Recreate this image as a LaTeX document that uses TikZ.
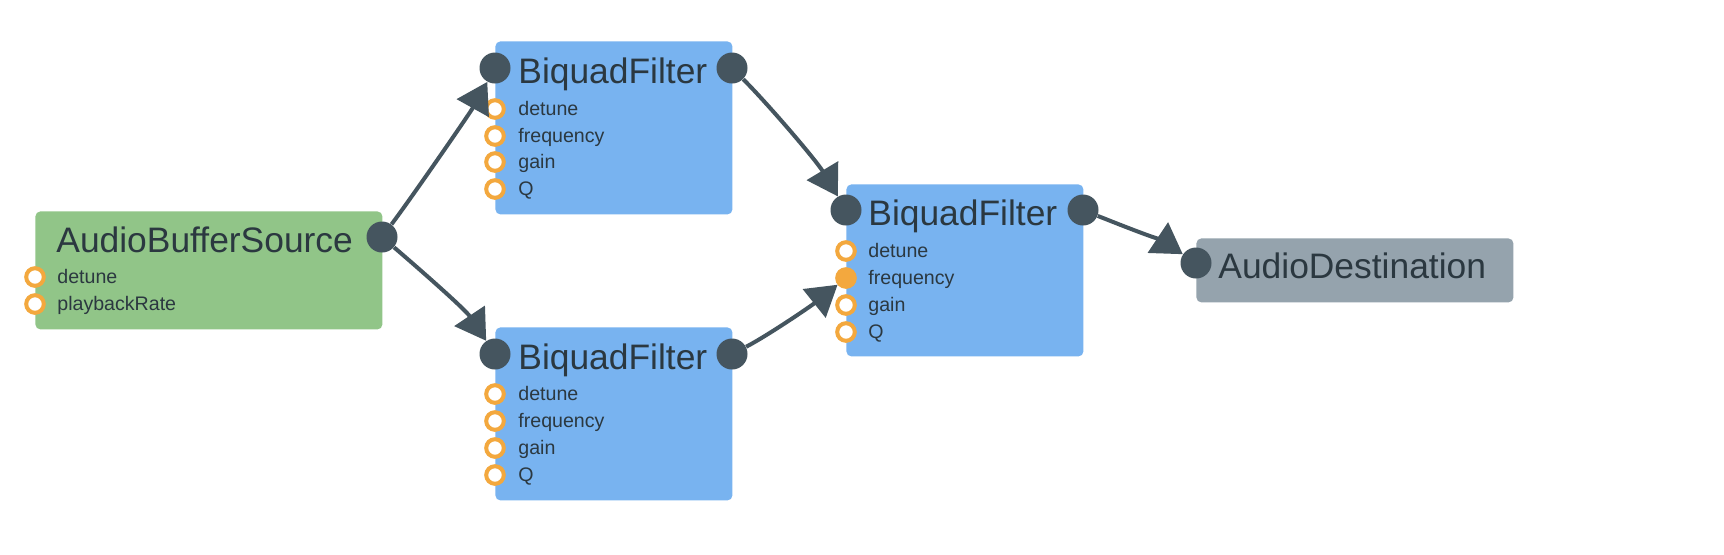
\documentclass[tikz,border=0pt]{standalone}
\usepackage{fontspec}
\setmainfont{Liberation Sans}
\usetikzlibrary{
  arrows.meta,
  positioning,
}
\definecolor{srcgreen}{RGB}{145, 197, 136}
\definecolor{filterblue}{RGB}{120, 179, 240}
\definecolor{destgrey}{RGB}{149, 163, 173}
\definecolor{portdark}{RGB}{69, 85, 95}
\definecolor{paramorange}{RGB}{243, 168, 62}
\definecolor{labeltext}{RGB}{43, 56, 64}
\tikzstyle{box} = [
  inner sep=0,
  rounded corners=2.5pt,
  anchor=north west,
]
\tikzstyle{port} = [
  circle,
  inner sep=0,
  minimum size=15.5pt,
  fill=portdark,
]
\tikzstyle{param} = [
  circle,
  inner sep=0,
  minimum size=8.8pt,
  draw=paramorange,
  line width=2pt,
  fill=white,
]
\tikzstyle{title} = [
  anchor=base west,
  inner sep=0,
  text=labeltext,
  font=\fontsize{17.7pt}{20pt}\selectfont,
]
\tikzstyle{plabel} = [
  anchor=base west,
  inner sep=0,
  text=labeltext,
  font=\fontsize{9.8pt}{12pt}\selectfont,
]
\tikzstyle{arrow} = [
  -{Triangle[length=15pt,width=18pt]},
  line width=2pt,
  portdark,
]

\begin{document}
\begin{tikzpicture}[x=0.5pt, y=-0.5pt]

        \useasboundingbox (0,0) rectangle (1724,554);
        \fill [white] (0,0) rectangle (1724,554);

        \node [box, fill=srcgreen, minimum width=173.5pt, minimum height=59pt] (src) at (35,211) {};
        \node [title] (src-title) at (56,252) {AudioBufferSource};
        \node [port] (src-out) at (382,237) {};
        \foreach \p/\y in {detune/277, playbackRate/304} {
          \node [param] (src-\p) at (35,\y) {};
          \node [plabel] at (57,\y+6.5) {\p};
        }

        \node [box, fill=filterblue, minimum width=118.5pt, minimum height=86.5pt] (top) at (495,41) {};
        \node [title] (top-title) at (518,83) {BiquadFilter};
        \node [port] (top-in) at (495,68) {};
        \node [port] (top-out) at (732,68) {};
        \foreach \p/\y in {detune/109, frequency/136, gain/162, Q/189} {
          \node [param] (top-\p) at (495,\y) {};
          \node [plabel] at (518,\y+6.5) {\p};
        }

        \node [box, fill=filterblue, minimum width=118.5pt, minimum height=86.5pt] (bot) at (495,327) {};
        \node [title] (bot-title) at (518,369) {BiquadFilter};
        \node [port] (bot-in) at (495,354) {};
        \node [port] (bot-out) at (732,354) {};
        \foreach \p/\y in {detune/394, frequency/421, gain/448, Q/475} {
          \node [param] (bot-\p) at (495,\y) {};
          \node [plabel] at (518,\y+6.5) {\p};
        }

        \node [box, fill=filterblue, minimum width=118.5pt, minimum height=86pt] (mid) at (846,184) {};
        \node [title] (mid-title) at (868,225) {BiquadFilter};
        \node [port] (mid-in) at (846,210) {};
        \node [port] (mid-out) at (1083,210) {};
        \foreach \p/\y/\c in {detune/251/white, frequency/278/paramorange, gain/305/white, Q/332/white} {
          \node [param, fill=\c] (mid-\p) at (846,\y) {};
          \node [plabel] at (868,\y+6.5) {\p};
        }

        \node [box, fill=destgrey, minimum width=158.5pt, minimum height=32pt] (dest) at (1196,238) {};
        \node [title] (dest-title) at (1218,278) {AudioDestination};
        \node [port] (dest-in) at (1196,263) {};

        \draw [arrow] (src-out) .. controls +(30,-40) and +(-25,45) .. (top-in);
        \draw [arrow] (src-out) .. controls +(35,30) and +(-30,-45) .. (bot-in);
        \draw [arrow] (top-out) .. controls +(35,35) and +(-30,-50) .. (mid-in);
        \draw [arrow] (bot-out) .. controls +(35,-18) and +(-35,28) .. (mid-frequency);
        \draw [arrow] (mid-out) .. controls +(30,12) and +(-30,-20) .. (dest-in);
      \end{tikzpicture}
\end{document}
